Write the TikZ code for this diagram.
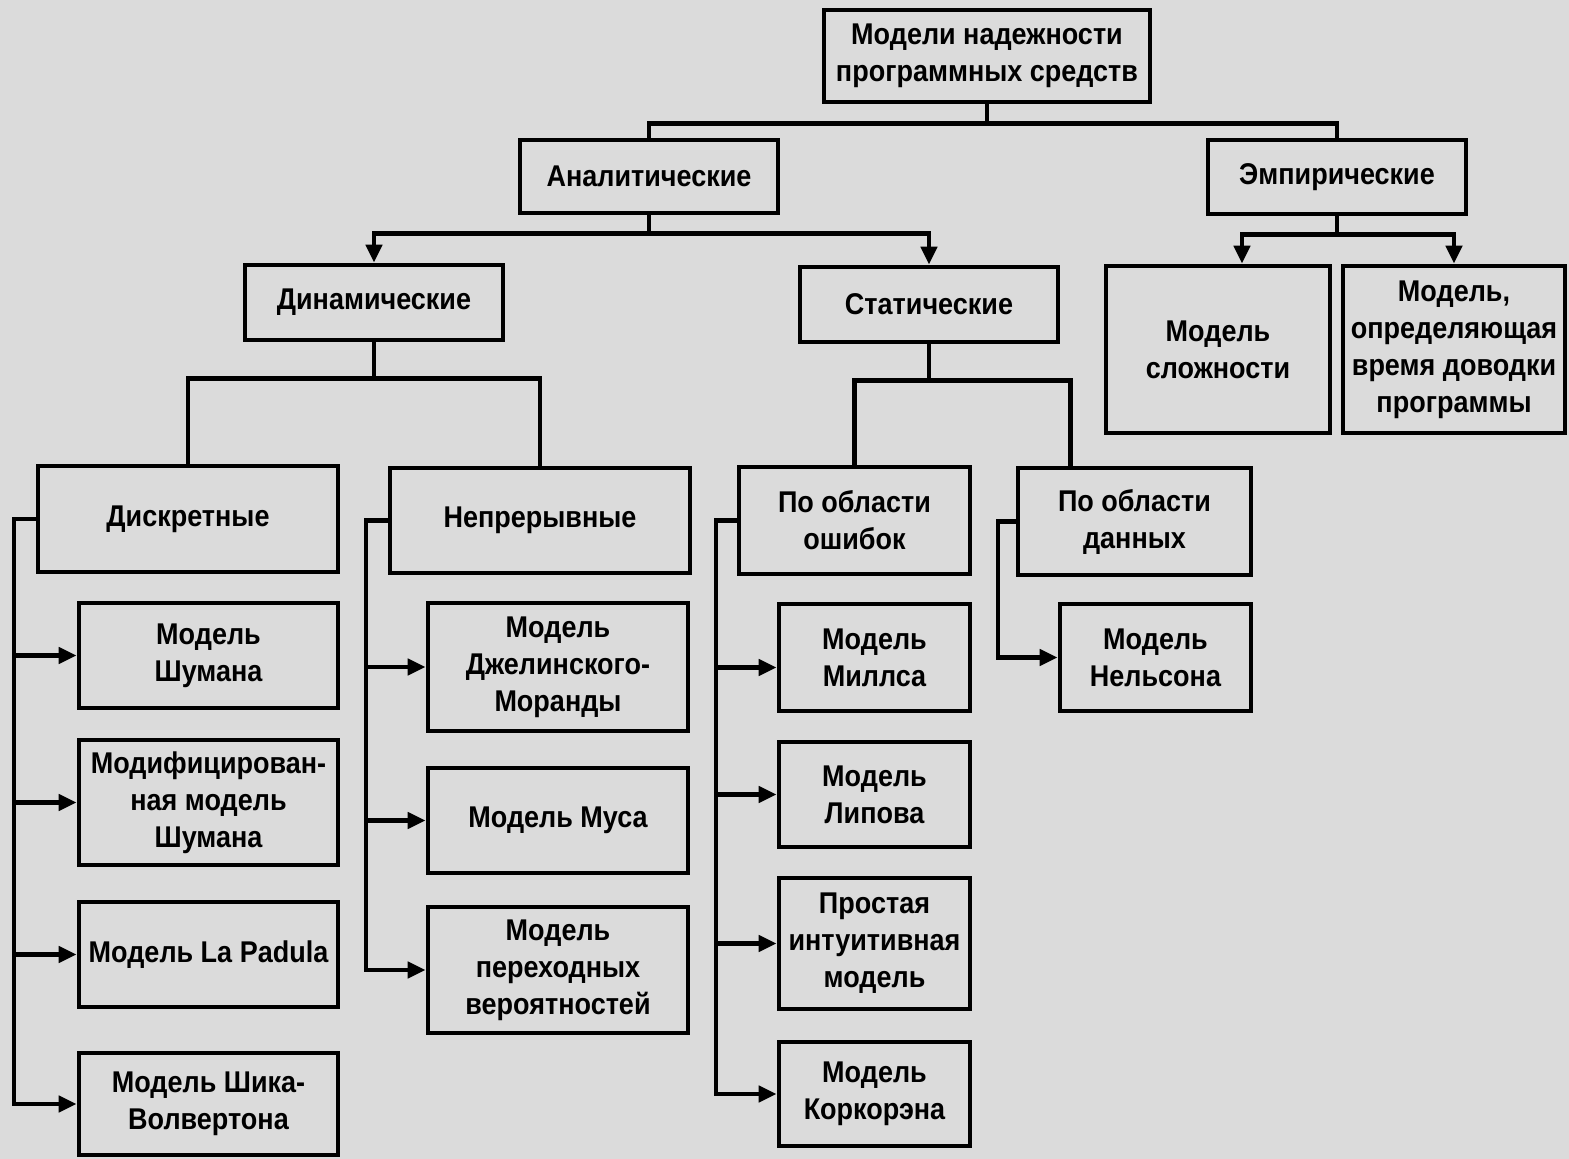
\documentclass[tikz,border=0pt]{standalone}
\usepackage{fontspec}
\setmainfont{Liberation Sans}[FakeStretch=0.9]
\usetikzlibrary{arrows.meta,calc}
\definecolor{bgc}{RGB}{219,219,219}
\begin{document}
\begin{tikzpicture}[x=0.5pt,y=-0.5pt,
  box/.style={draw=black,line width=2.3pt,fill=none,align=center,inner sep=0pt,
    font=\fontsize{15}{18.5}\selectfont\bfseries},
  conn/.style={line width=2.3pt,black},
  arr/.style={conn,-{Triangle[length=9pt,width=8pt]}},
  bw/.style 2 args={minimum width=#1*0.5pt,minimum height=#2*0.5pt}]
\fill[bgc] (0,0) rectangle (1569,1159);
\useasboundingbox (0,0) rectangle (1569,1159);

\node[box,bw={326}{92}] (root) at (987,56) {Модели надежности\\программных средств};
\node[box,bw={258}{73}] (anal) at (649,176.5) {Аналитические};
\node[box,bw={258}{74}] (emp) at (1337,177) {Эмпирические};
\node[box,bw={258}{75}] (dyn) at (374,302.5) {Динамические};
\node[box,bw={258}{75}] (stat) at (929,304.5) {Статические};
\node[box,bw={224}{167}] (slozh) at (1218,349.5) {Модель\\сложности};
\node[box,bw={222}{167}] (dovod) at (1454,349.5) {Модель,\\определяющая\\время доводки\\программы};
\node[box,bw={300}{106}] (disc) at (188,519) {Дискретные};
\node[box,bw={300}{105}] (nepr) at (540,520.5) {Непрерывные};
\node[box,bw={231}{107}] (oshib) at (854.5,520.5) {По области\\ошибок};
\node[box,bw={233}{107}] (dann) at (1134.5,521.5) {По области\\данных};
\node[box,bw={259}{105}] (shum) at (208.5,655.5) {Модель\\Шумана};
\node[box,bw={259}{125}] (modsh) at (208.5,802.5) {Модифицирован-\\ная модель\\Шумана};
\node[box,bw={259}{105}] (lapad) at (208.5,954.5) {Модель La Padula};
\node[box,bw={259}{102}] (shik) at (208.5,1104) {Модель Шика-\\Волвертона};
\node[box,bw={260}{128}] (jel) at (558,667) {Модель\\Джелинского-\\Моранды};
\node[box,bw={260}{105}] (mus) at (558,820.5) {Модель Муса};
\node[box,bw={260}{126}] (perex) at (558,970) {Модель\\переходных\\вероятностей};
\node[box,bw={191}{107}] (mills) at (874.5,657.5) {Модель\\Миллса};
\node[box,bw={191}{105}] (lip) at (874.5,794.5) {Модель\\Липова};
\node[box,bw={191}{131}] (prost) at (874.5,943.5) {Простая\\интуитивная\\модель};
\node[box,bw={191}{104}] (kork) at (874.5,1094) {Модель\\Коркорэна};
\node[box,bw={191}{107}] (nels) at (1155.5,657.5) {Модель\\Нельсона};

% top level
\draw[conn] (root.south) -- ++(0,19) -| (anal.north);
\draw[conn] (root.south) -- ++(0,19) -| (emp.north);
% analytic
\draw[arr] (anal.south) -- ++(0,18) -| (dyn.north);
\draw[arr] (anal.south) -- ++(0,18) -| (stat.north);
% empirical
\draw[arr] (emp.south) -- ++(0,18) -| ([xshift=12pt]slozh.north);
\draw[arr] (emp.south) -- ++(0,18) -| (dovod.north);
% dynamic
\draw[conn] (dyn.south) -- ++(0,36) -| (disc.north);
\draw[conn] (dyn.south) -- ++(0,36) -| (nepr.north);
% static
\draw[conn] (stat.south) -- ++(0,36) -| (oshib.north);
\draw[conn] (stat.south) -- ++(0,36) -| ([xshift=-32pt]dann.north);

% discrete
\coordinate (dt) at (14,519);
\draw[arr] (disc.west) -- (disc.west -| dt) |- (shik.west);
\draw[arr] (shum.west -| dt) -- (shum.west);
\draw[arr] (modsh.west -| dt) -- (modsh.west);
\draw[arr] (lapad.west -| dt) -- (lapad.west);
% continuous
\coordinate (nt) at (366,520);
\draw[arr] (nepr.west) -- (nepr.west -| nt) |- (perex.west);
\draw[arr] (jel.west -| nt) -- (jel.west);
\draw[arr] (mus.west -| nt) -- (mus.west);
% errors
\coordinate (ot) at (716,520);
\draw[arr] (oshib.west) -- (oshib.west -| ot) |- (kork.west);
\draw[arr] ([yshift=-5pt]mills.west -| ot) -- ([yshift=-5pt]mills.west);
\draw[arr] (lip.west -| ot) -- (lip.west);
\draw[arr] (prost.west -| ot) -- (prost.west);
% data
\coordinate (dtt) at (998,521);
\draw[arr] (dann.west) -- (dann.west -| dtt) |- (nels.west);
\end{tikzpicture}
\end{document}
